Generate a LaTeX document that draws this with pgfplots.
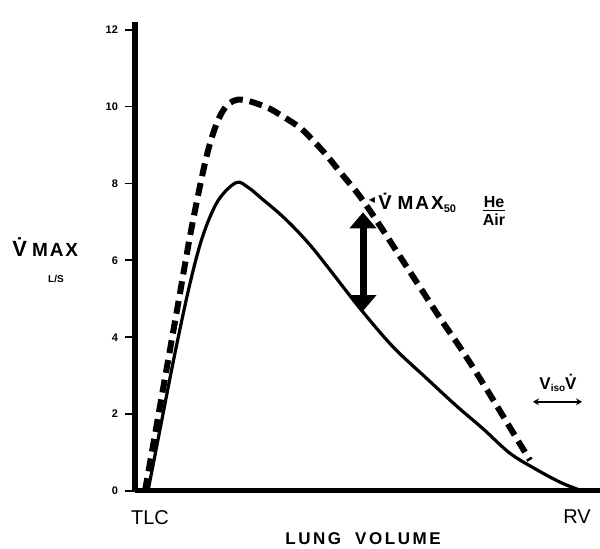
\documentclass[border=0pt]{standalone}
\usepackage{fontspec}
\setmainfont{Liberation Sans}
\newfontfamily\sym{DejaVu Sans}
\usepackage{pgfplots}
\pgfplotsset{compat=1.18}
\usetikzlibrary{arrows.meta}
\begin{document}
\begin{tikzpicture}
\useasboundingbox (0,0) rectangle (300pt,274.5pt);
\begin{axis}[
  at={(67.5pt,29pt)}, anchor=south west,
  scale only axis, width=232.5pt, height=234.5pt,
  xmin=135, xmax=600, ymin=0, ymax=12.2,
  axis lines*=left,
  x axis line style={line width=2.5pt},
  y axis line style={line width=3pt},
  xtick={150,577}, xticklabels={TLC,RV},
  x tick style={draw=none},
  x tick label style={font=\fontsize{10}{11}\selectfont, yshift=-1pt},
  ytick={0,2,4,6,8,10,12},
  y tick label style={font=\bfseries\fontsize{5.5}{6}\selectfont},
  /pgf/number format/assume math mode=true,
  tick align=outside, major tick length=5pt,
  y tick style={line width=0.9pt, black},
  clip=false,
]
\addplot[black, line width=1.6pt, smooth, tension=0.55] coordinates {
(148,0) (160,1.6) (175,3.59) (190,5.4) (203,6.65) (218,7.55) (236,8.02)
(248,7.9) (262,7.6) (278,7.25) (293,6.88) (310,6.4) (327,5.85) (360,4.75)
(393,3.75) (427,2.92) (457,2.2) (483,1.62) (510,0.98) (537,0.55) (560,0.23) (578,0.04)};
\addplot[black, line width=3pt, dash pattern=on 6.5pt off 3.5pt, smooth, tension=0.55] coordinates {
(145,0) (162,2.5) (178,4.85) (192,6.9) (208,8.85) (222,9.85) (238,10.18)
(265,10.0) (283,9.74) (300,9.45) (313,9.12) (327,8.72) (340,8.3) (360,7.66)
(380,6.9) (400,6.1) (420,5.3) (440,4.5) (463,3.62) (483,2.8) (500,2.08)
(517,1.35) (530,0.8)};
\addplot[black, line width=3.5pt, {Triangle[width=13pt,length=8pt]}-{Triangle[width=13pt,length=8pt]}] coordinates {(363,7.25) (363,4.68)};
\addplot[black, line width=0.9pt, {Stealth[width=3.5pt,length=3pt]}-{Stealth[width=3.5pt,length=3pt]}] coordinates {(533,2.32) (582,2.32)};
\end{axis}
% y label
\node[anchor=base west, inner sep=0] at (6pt,146pt)
  {{\fontsize{11}{11}\selectfont\bfseries\.{V}}\hspace{2.5pt}{\fontsize{9.5}{10}\selectfont\bfseries\addfontfeature{LetterSpace=10}MAX}};
\node[inner sep=0] at (28pt,135pt) {\fontsize{5}{5}\selectfont\bfseries L/S};
% x label
\node[inner sep=0] at (181.5pt,5pt) {\fontsize{8.5}{9}\selectfont\bfseries\addfontfeature{LetterSpace=15}LUNG\hspace{7pt}VOLUME};
% annotation
\node[inner sep=0] at (186pt,174.5pt) {\sym\fontsize{4}{4}\selectfont ◀};
\node[anchor=base west, inner sep=0] at (189pt,169.5pt)
  {{\fontsize{10}{10}\selectfont\bfseries\.{V}}\hspace{3pt}{\fontsize{9.5}{10}\selectfont\bfseries\addfontfeature{LetterSpace=10}MAX}{\fontsize{5.5}{6}\selectfont\bfseries\raisebox{-1.5pt}{50}}};
\node[inner sep=0] at (247pt,168pt)
  {\fontsize{8}{9}\selectfont\bfseries\begin{tabular}{@{}c@{}}He\\[-1.5pt]\hline\noalign{\vskip1pt}Air\end{tabular}};
\node[inner sep=0] at (279pt,83pt)
  {\fontsize{8.5}{9}\selectfont\bfseries V\raisebox{-1pt}{\fontsize{5}{5}\selectfont iso}\.{V}};
\end{tikzpicture}
\end{document}
